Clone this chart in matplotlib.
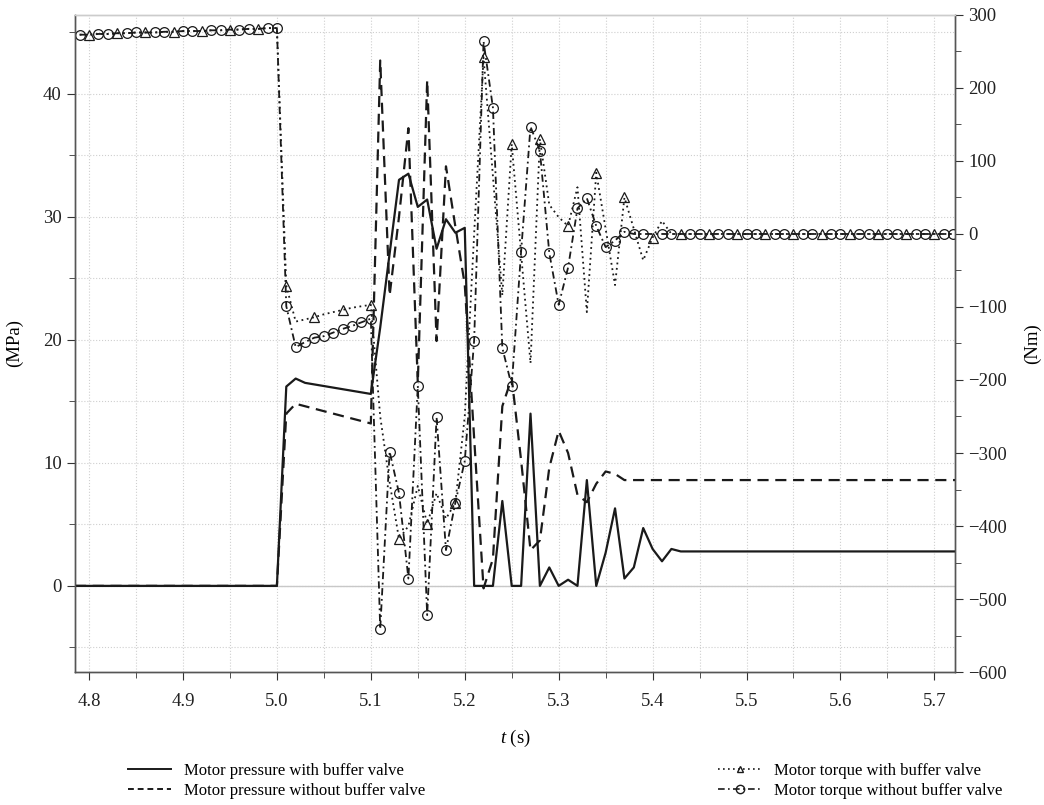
import numpy as np
import matplotlib.pyplot as plt
from matplotlib.ticker import MultipleLocator
from matplotlib.lines import Line2D

plt.rcParams['font.family'] = ['Liberation Serif', 'DejaVu Serif']
plt.rcParams['mathtext.fontset'] = 'custom'
plt.rcParams['mathtext.it'] = 'Liberation Serif:italic'
plt.rcParams['mathtext.rm'] = 'Liberation Serif'

# pressure (MPa)
t_p = [4.785, 5.00, 5.01, 5.02, 5.03, 5.10, 5.11, 5.12, 5.13, 5.14, 5.15, 5.16,
       5.17, 5.18, 5.19, 5.20, 5.21, 5.22, 5.23, 5.24, 5.25, 5.26, 5.27, 5.28,
       5.29, 5.30, 5.31, 5.32, 5.33, 5.34, 5.35, 5.36, 5.37, 5.38, 5.39, 5.40,
       5.41, 5.42, 5.43, 5.722]
p_with = [0, 0, 16.2, 16.85, 16.5, 15.6, 21.0, 27.0, 33.0, 33.5, 30.8, 31.4,
          27.4, 29.8, 28.7, 29.1, 0, 0, 0, 6.9, 0, 0, 14.0, 0,
          1.5, 0, 0.5, 0, 8.6, 0, 2.7, 6.3, 0.6, 1.5, 4.7, 3.0,
          2.0, 3.0, 2.8, 2.8]
p_without = [0, 0, 14.0, 14.8, 14.6, 13.2, 42.7, 23.6, 30.0, 37.2, 16.5, 41.1,
             19.9, 34.1, 29.2, 24.5, 12.0, -0.2, 2.2, 14.6, 16.9, 10.2, 2.9, 3.7,
             9.6, 12.6, 10.8, 7.4, 6.8, 8.3, 9.3, 9.1, 8.6, 8.6, 8.6, 8.6,
             8.6, 8.6, 8.6, 8.6]

# torque (Nm)
t_pre = [4.79, 4.80, 4.81, 4.82, 4.83, 4.84, 4.85, 4.86, 4.87, 4.88, 4.89,
         4.90, 4.91, 4.92, 4.93, 4.94, 4.95, 4.96, 4.97, 4.98, 4.99, 5.00]
tq_pre = [273, 273, 274, 274, 275, 275, 276, 276, 276, 277, 277,
          278, 278, 278, 279, 279, 280, 280, 281, 281, 282, 282]
t_tr = [5.01, 5.02, 5.03, 5.04, 5.05, 5.06, 5.07, 5.08, 5.09, 5.10,
        5.11, 5.12, 5.13, 5.14, 5.15, 5.16, 5.17, 5.18, 5.19, 5.20,
        5.21, 5.22, 5.23, 5.24, 5.25, 5.26, 5.27, 5.28, 5.29, 5.30,
        5.31, 5.32, 5.33, 5.34, 5.35, 5.36, 5.37, 5.38, 5.39, 5.40,
        5.41]
tq_with_tr = [-71, -120, -117, -114, -110, -107, -104, -101, -99, -97,
              -250, -340, -418, -400, -345, -397, -355, -390, -368, -250,
              0, 242, 79, -84, 123, -27, -177, 130, 40, 23,
              11, 64, -107, 84, 7, -70, 50, 7, -36, -5,
              18]
tq_without_tr = [-99, -155, -148, -142, -140, -135, -130, -126, -121, -116,
                 -541, -298, -355, -472, -208, -522, -251, -433, -368, -311,
                 -146, 264, 173, -156, -208, -24, 147, 114, -26, -97,
                 -46, 35, 49, 11, -18, -9, 3, 0, 0, 0,
                 0]
t_post = [5.42, 5.43, 5.44, 5.45, 5.46, 5.47, 5.48, 5.49, 5.50,
          5.51, 5.52, 5.53, 5.54, 5.55, 5.56, 5.57, 5.58, 5.59, 5.60,
          5.61, 5.62, 5.63, 5.64, 5.65, 5.66, 5.67, 5.68, 5.69, 5.70,
          5.71, 5.72]
tq_post = [0] * len(t_post)

t_tq = t_pre + t_tr + t_post
tq_with = tq_pre + tq_with_tr + tq_post
tq_without = tq_pre + tq_without_tr + tq_post

# triangles every third sample; circles on the others, and on every
# transient sample where the two curves part
n_pre = len(t_pre)
n_tr = len(t_tr)
mk_with = list(range(1, len(t_tq), 3))
mk_without = [i for i in range(len(t_tq))
              if i not in mk_with or n_pre <= i < n_pre + 37]

fig = plt.figure(figsize=(10.44, 8.05), dpi=100)
ax = fig.add_axes([0.0718, 0.1652, 0.8430, 0.8162])
ax2 = ax.twinx()

ax.axhline(0, color='#c8c8c8', lw=1.0, zorder=1)
ax.plot(t_p, p_with, color='#1a1a1a', lw=1.6, zorder=3)
ax.plot(t_p, p_without, color='#1a1a1a', lw=1.6, ls=(0, (5, 3)), zorder=3)

ax2.plot(t_tq, tq_with, color='#1a1a1a', lw=1.3, ls=(0, (1, 2)),
         marker='^', ms=7, mfc='none', mec='#1a1a1a', mew=0.9,
         markevery=mk_with)
ax2.plot(t_tq, tq_without, color='#1a1a1a', lw=1.3, ls=(0, (4, 2, 1, 2)),
         marker='o', ms=7, mfc='none', mec='#1a1a1a', mew=0.9,
         markevery=mk_without)

ax.set_xlim(4.785, 5.722)
ax.set_ylim(-7.0, 46.4)
ax2.set_ylim(-600, 300)

ax.xaxis.set_major_locator(MultipleLocator(0.1))
ax.xaxis.set_minor_locator(MultipleLocator(0.05))
ax.yaxis.set_major_locator(MultipleLocator(10))
ax.yaxis.set_minor_locator(MultipleLocator(5))
ax2.yaxis.set_major_locator(MultipleLocator(100))
ax2.yaxis.set_minor_locator(MultipleLocator(50))
ax.set_xticks(ax.get_xticks())
ax.set_xticklabels([f'{v:.1f}' for v in ax.get_xticks()])
ax.set_xlim(4.785, 5.722)

ax.grid(True, which='both', color='#cfcfcf', ls=':', lw=0.8)
ax.set_axisbelow(True)

for a in (ax, ax2):
    a.tick_params(which='both', direction='out', colors='#333333',
                  labelcolor='#222222', labelsize=13.5)
    a.tick_params(which='major', length=6)
    a.tick_params(which='minor', length=4)
    for s in a.spines.values():
        s.set_color('#555555')
        s.set_linewidth(1.0)
    a.spines['top'].set_color('#cccccc')
ax.tick_params(axis='x', pad=9)

ax.set_ylabel('(MPa)', fontsize=13.5, labelpad=14)
ax2.set_ylabel('(Nm)', fontsize=13.5, labelpad=12)
ax.set_xlabel('$t$ (s)', fontsize=13.5, labelpad=13)

h_solid = Line2D([], [], color='#1a1a1a', lw=1.4)
h_dash = Line2D([], [], color='#1a1a1a', lw=1.4, ls=(0, (3, 2)))
h_tri = Line2D([], [], color='#1a1a1a', lw=1.2, ls=(0, (1, 2)), marker='^',
               ms=5, mfc='none', mec='#1a1a1a')
h_circ = Line2D([], [], color='#1a1a1a', lw=1.2, ls=(0, (4, 2, 1, 2)),
                marker='o', ms=6, mfc='none', mec='#1a1a1a')

leg_kw = dict(loc='upper left', frameon=False, fontsize=12, handlelength=2.6,
              handletextpad=0.75, labelspacing=0.22, borderpad=0,
              borderaxespad=0)
fig.legend([h_solid, h_dash],
           ['Motor pressure with buffer valve',
            'Motor pressure without buffer valve'],
           bbox_to_anchor=(128 / 1044, 1 - 763 / 805), **leg_kw)
fig.legend([h_tri, h_circ],
           ['Motor torque with buffer valve',
            'Motor torque without buffer valve'],
           bbox_to_anchor=(718 / 1044, 1 - 763 / 805), **leg_kw)

fig.savefig('out.png', dpi=100)
